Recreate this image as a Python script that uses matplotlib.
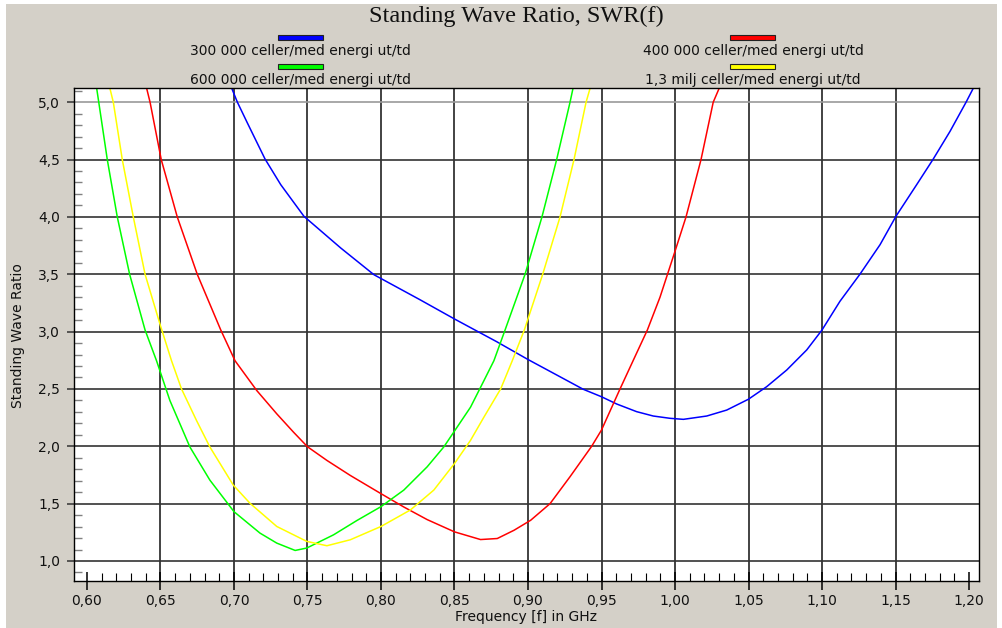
import matplotlib
matplotlib.use("Agg")
import matplotlib.pyplot as plt
from matplotlib.patches import Rectangle
from matplotlib.ticker import MultipleLocator, FuncFormatter

# ---- data ----
series_labels = ["300 000 celler/med energi ut/td",
                 "400 000 celler/med energi ut/td",
                 "600 000 celler/med energi ut/td",
                 "1,3 milj celler/med energi ut/td"]
series_colors = ["#0000ff", "#ff0000", "#00ff00", "#ffff00"]

f_300k = [0.6985, 0.7023, 0.7091, 0.7211, 0.7318, 0.7476, 0.7726, 0.7952, 0.8265, 0.85,
          0.8639, 0.8787, 0.8998, 0.9195, 0.9376, 0.95, 0.9603, 0.9739, 0.9852, 0.9966,
          1.0057, 1.0216, 1.0352, 1.0499, 1.0624, 1.076, 1.0896, 1.10, 1.1122, 1.1259,
          1.1395, 1.1503, 1.1644, 1.1757, 1.1871, 1.198, 1.203]
swr_300k = [5.12, 5.0, 4.819, 4.505, 4.281, 4.005, 3.729, 3.496, 3.278, 3.11,
            3.014, 2.912, 2.758, 2.622, 2.497, 2.432, 2.369, 2.302, 2.264, 2.244,
            2.235, 2.264, 2.316, 2.41, 2.52, 2.665, 2.84, 3.014, 3.264, 3.502,
            3.758, 4.005, 4.281, 4.505, 4.746, 5.0, 5.124]

f_400k = [0.6406, 0.6429, 0.6505, 0.6614, 0.675, 0.691, 0.7007, 0.7155, 0.7291, 0.7405,
          0.75, 0.7632, 0.7791, 0.80, 0.8155, 0.8314, 0.85, 0.8677, 0.8791, 0.8905,
          0.9018, 0.915, 0.9286, 0.9433, 0.95, 0.9626, 0.9717, 0.9812, 0.9898, 1.00,
          1.0075, 1.0177, 1.026, 1.030]
swr_400k = [5.12, 5.0, 4.5, 4.0, 3.5, 3.014, 2.746, 2.486, 2.283, 2.123,
            1.996, 1.877, 1.746, 1.587, 1.471, 1.361, 1.254, 1.187, 1.196, 1.268,
            1.355, 1.5, 1.735, 2.0, 2.142, 2.5, 2.752, 3.014, 3.30, 3.70,
            4.0, 4.5, 5.0, 5.12]

f_600k = [0.6066, 0.608, 0.6138, 0.6206, 0.629, 0.6395, 0.6473, 0.6564, 0.67, 0.6836,
          0.70, 0.7177, 0.7291, 0.7416, 0.7495, 0.7677, 0.7836, 0.80, 0.8155, 0.8314,
          0.8427, 0.85, 0.8609, 0.87, 0.8768, 0.8844, 0.898, 0.9095, 0.9195, 0.9286, 0.9306]
swr_600k = [5.12, 5.0, 4.5, 4.0, 3.5, 3.014, 2.746, 2.399, 1.994, 1.705,
            1.43, 1.243, 1.156, 1.092, 1.113, 1.228, 1.353, 1.474, 1.618, 1.821,
            1.994, 2.133, 2.341, 2.572, 2.746, 3.014, 3.5, 4.0, 4.5, 5.0, 5.12]

f_13m = [0.6156, 0.6179, 0.624, 0.6315, 0.6395, 0.65, 0.6575, 0.6643, 0.6745, 0.6836,
         0.6995, 0.7109, 0.7291, 0.7495, 0.7632, 0.7791, 0.80, 0.82, 0.8359, 0.85,
         0.8609, 0.87, 0.8814, 0.8893, 0.8975, 0.91, 0.9218, 0.9313, 0.9395, 0.9422]
swr_13m = [5.12, 5.0, 4.5, 4.0, 3.5, 3.05, 2.746, 2.5, 2.225, 1.994,
           1.662, 1.503, 1.301, 1.171, 1.133, 1.185, 1.301, 1.445, 1.618, 1.85,
           2.052, 2.254, 2.5, 2.746, 3.014, 3.5, 4.0, 4.5, 5.0, 5.12]

series_f = [f_300k, f_400k, f_600k, f_13m]
series_swr = [swr_300k, swr_400k, swr_600k, swr_13m]

x_major = [0.60, 0.65, 0.70, 0.75, 0.80, 0.85, 0.90, 0.95, 1.00, 1.05, 1.10, 1.15, 1.20]
y_major = [1.0, 1.5, 2.0, 2.5, 3.0, 3.5, 4.0, 4.5, 5.0]

title = "Standing Wave Ratio, SWR(f)"
xlabel = "Frequency [f] in GHz"
ylabel = "Standing Wave Ratio"

# ---- figure ----
W, H = 1003, 628
fig = plt.figure(figsize=(W / 100, H / 100), dpi=100)
fig.patch.set_facecolor("#d4d0c8")
# thin white borders at top / left / right like the reference screenshot
for (x0, y0, x1, y1) in [(0, 0, W, 4), (0, 0, 6, H), (997, 0, W, H)]:
    fig.patches.append(Rectangle((x0 / W, 1 - y1 / H), (x1 - x0) / W, (y1 - y0) / H,
                                 transform=fig.transFigure, facecolor="white",
                                 edgecolor="none", zorder=-5))

def px_box(x0, y0, x1, y1):
    return [x0 / W, 1 - y1 / H, (x1 - x0) / W, (y1 - y0) / H]

ax = fig.add_axes(px_box(74, 88, 979, 581))
ax.set_facecolor("white")
ax.set_xlim(0.59116, 1.2068)
ax.set_ylim(0.8256, 5.1238)

# grid lines (inner only)
for t in x_major:
    if x_major[0] < t < x_major[-1]:
        ax.axvline(t, color="#222222", lw=1.2, zorder=1)
for t in y_major:
    c = "#999999" if t == y_major[-1] else "#333333"
    ax.axhline(t, color=c, lw=1.2, zorder=1)

for fx, sy, col in zip(series_f, series_swr, series_colors):
    ax.plot(fx, sy, color=col, lw=1.1, zorder=3, solid_joinstyle="round")

ax.set_xticks(x_major)
ax.set_yticks(y_major)
ax.xaxis.set_minor_locator(MultipleLocator(0.01))
ax.yaxis.set_minor_locator(MultipleLocator(0.1))
fmt2 = FuncFormatter(lambda v, p: f"{v:.2f}".replace(".", ","))
fmt1 = FuncFormatter(lambda v, p: f"{v:.1f}".replace(".", ","))
ax.xaxis.set_major_formatter(fmt2)
ax.yaxis.set_major_formatter(fmt1)

ax.tick_params(axis="x", which="major", direction="inout", length=13, width=1.1,
               color="black", labelsize=10, pad=3, labelcolor="#111111")
ax.tick_params(axis="x", which="minor", direction="in", length=5.8, width=0.8, color="black")
ax.tick_params(axis="y", which="major", direction="out", length=5, width=1.1,
               color="#333333", labelsize=10, pad=5, labelcolor="#111111")
ax.tick_params(axis="y", which="minor", direction="in", length=5.8, width=1.0, color="#808080")
for sp in ax.spines.values():
    sp.set_color("black")
    sp.set_linewidth(1.0)
    sp.set_zorder(4)

# title and axis labels
fig.text(516 / W, 1 - 16 / H, title, ha="center", va="center",
         fontsize=17.5, family=["Liberation Serif", "DejaVu Serif"], color="#111111")
fig.text(526 / W, 1 - 617 / H, xlabel, ha="center", va="center", fontsize=10, color="#111111")
fig.text(18 / W, 1 - 336 / H, ylabel, ha="center", va="center", rotation=90,
         fontsize=10, color="#111111")

# legend (2 columns x 2 rows)
leg_cx = [300, 753, 300, 753]
leg_bar_y = [35, 35, 64, 64]
leg_txt_y = [51.5, 51.5, 80, 80]
for i in range(4):
    cx, by, ty = leg_cx[i], leg_bar_y[i], leg_txt_y[i]
    r = Rectangle(((cx - 22.5) / W, 1 - (by + 4.5) / H), 45 / W, 4.5 / H,
                  transform=fig.transFigure, facecolor=series_colors[i],
                  edgecolor="#222222", lw=0.8, zorder=2)
    fig.patches.append(r)
    fig.text(cx / W, 1 - ty / H, series_labels[i], ha="center", va="center",
             fontsize=10, color="#111111")

fig.savefig("out.png", dpi=100, facecolor=fig.get_facecolor())
